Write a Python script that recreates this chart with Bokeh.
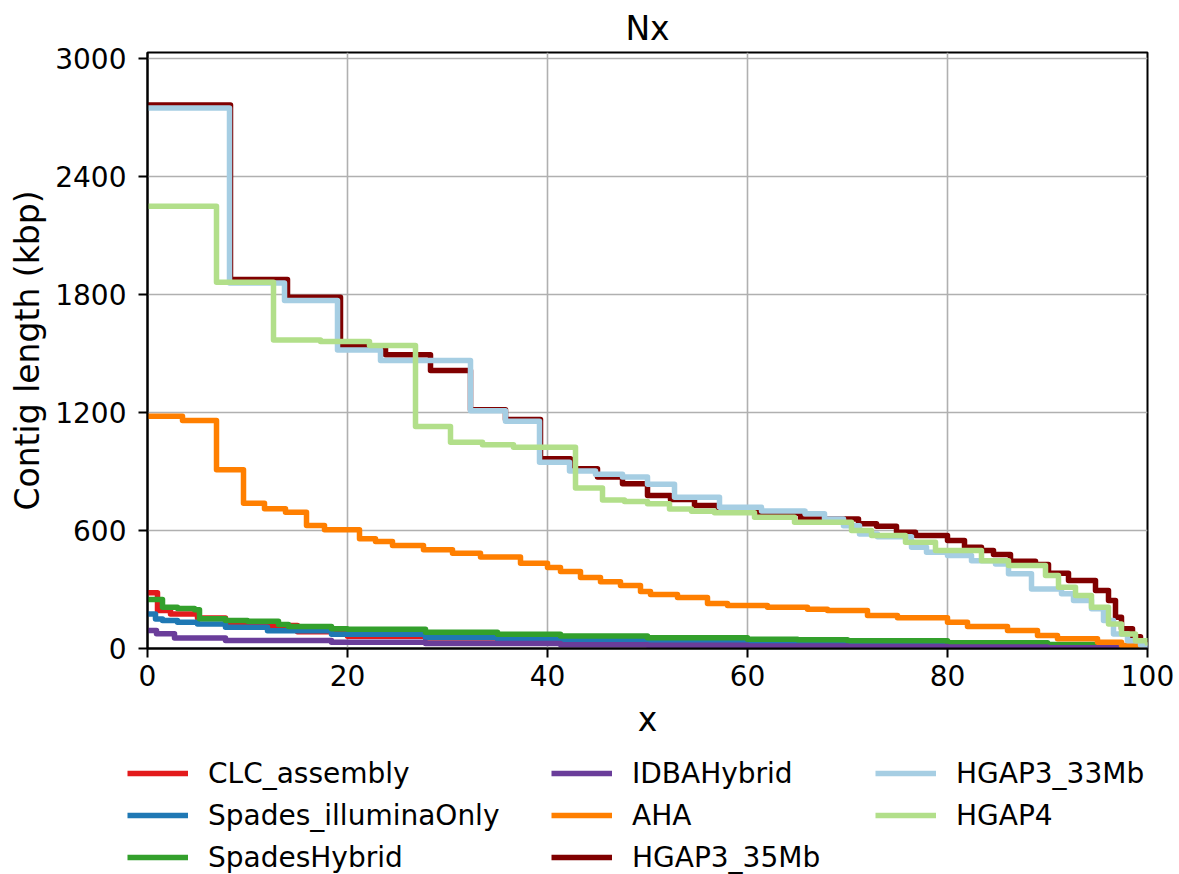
from bokeh.plotting import figure
from bokeh.models import Range1d, FixedTicker, Legend, LegendItem
from bokeh.layouts import column
from bokeh.embed import file_html
from bokeh.resources import INLINE

FONT = "DejaVu Sans"

# ---------------- data ----------------
names = ["CLC_assembly", "Spades_illuminaOnly", "SpadesHybrid", "IDBAHybrid",
         "AHA", "HGAP3_35Mb", "HGAP3_33Mb", "HGAP4"]
colors = ["#e31a1c", "#1f78b4", "#33a02c", "#6a3d9a",
          "#ff7f00", "#800000", "#a6cee3", "#b2df8a"]

clc_x = [0, 1.0, 2.3, 5.0, 7.8, 10, 15, 20, 27.8, 35, 41.3, 50, 60, 70, 80, 90, 95, 100]
clc_y = [283, 193, 176, 155, 130, 117, 85, 62, 54, 46, 40, 34, 28, 22, 15, 8, 4, 1]

spades_il_x = [0, 0.8, 1.5, 3, 5, 7.8, 12, 18.4, 27.8, 35, 41.3, 50, 60, 70, 80, 90, 95, 100]
spades_il_y = [176, 150, 142, 133, 125, 108, 90, 72, 56, 48, 44, 38, 32, 26, 18, 10, 5, 1]

spades_hy_x = [0, 1.5, 3, 4.7, 5.2, 7.8, 10, 13.1, 14.1, 18.4, 20, 27.8, 35, 41.3, 50, 60, 65, 70, 80, 90, 95, 100]
spades_hy_y = [249, 210, 203, 197, 151, 142, 139, 122, 112, 101, 98, 83, 72, 63, 55, 47, 44, 40, 29, 20, 12, 2]

idba_x = [0, 0.9, 2.7, 7.8, 18.4, 27.8, 41.3, 50, 60, 70, 80, 90, 100]
idba_y = [92, 75, 54, 41, 32, 26, 19, 16, 13, 10, 7, 4, 1]

aha_x = [0, 3.5, 6.9, 9.6, 11.7, 13.8, 15.9, 17.7, 21.2, 22.8, 24.5, 27.6, 30.5, 33.3,
         37.3, 40.0, 41.3, 43.3, 45.3, 47.3, 49.3, 50.3, 53, 56, 58, 62, 66, 68, 72, 75,
         80, 82, 86, 89, 91, 95, 97.4, 99.5]
aha_y = [1182, 1160, 909, 739, 711, 693, 626, 604, 558, 544, 524, 503, 485, 465,
         434, 412, 392, 361, 340, 320, 290, 275, 259, 229, 219, 210, 200, 193, 168, 156,
         134, 112, 91, 66, 49, 32, 15, 5]

hgap35_x = [0, 8.3, 14.0, 19.3, 23.8, 28.3, 32.3, 35.8, 39.3, 42.3, 45.0, 47.5, 50.0,
            52.3, 54.7, 57.1, 61.2, 65.3, 71.1, 72.9, 74.9, 76.8, 80.0, 81.7, 83.4,
            84.6, 86.3, 88.8, 90.1, 92.1, 94.8, 96.1, 96.8, 97.4, 98.5, 99.3, 100]
hgap35_y = [2765, 1877, 1787, 1538, 1494, 1414, 1215, 1165, 965, 914, 872, 838, 778,
            758, 727, 705, 688, 659, 634, 622, 592, 575, 549, 515, 498,
            478, 444, 427, 383, 346, 295, 244, 159, 100, 60, 30, 15]

hgap33_x = [0, 8.2, 13.7, 19.0, 23.3, 32.3, 35.8, 39.2, 42.2, 44.8, 47.5, 50.0, 52.7,
            57.2, 61.4, 65.75, 67.7, 69.6, 71.2, 73.0, 76.4, 77.9, 80.0, 82.4, 84.8,
            86.1, 88.4, 91.4, 92.6, 94.4, 95.6, 96.6, 98.0, 99.3, 100]
hgap33_y = [2750, 1860, 1770, 1519, 1465, 1210, 1156, 948, 903, 886, 872, 835, 770,
            719, 699, 685, 659, 625, 583, 568, 515, 490, 473, 447, 430,
            380, 303, 278, 244, 202, 142, 74, 40, 18, 10]

hgap4_x = [0, 6.9, 12.6, 17.3, 22.2, 26.8, 30.3, 33.5, 36.6, 42.8, 45.5, 47.7, 50.0,
           52.2, 54.4, 56.7, 60.7, 64.7, 70.4, 72.4, 75.8, 78.8, 83.4, 86.1, 89.8,
           91.1, 92.8, 94.4, 96.1, 97.4, 98.8, 100]
hgap4_y = [2250, 1863, 1570, 1562, 1541, 1129, 1049, 1037, 1024, 816, 756, 748, 736,
           710, 698, 690, 668, 642, 600, 575, 541, 498, 447, 422, 371,
           312, 269, 210, 125, 74, 40, 15]

series_x = [clc_x, spades_il_x, spades_hy_x, idba_x, aha_x, hgap35_x, hgap33_x, hgap4_x]
series_y = [clc_y, spades_il_y, spades_hy_y, idba_y, aha_y, hgap35_y, hgap33_y, hgap4_y]

x_ticks = [0, 20, 40, 60, 80, 100]
y_ticks = [0, 600, 1200, 1800, 2400, 3000]

LW = 5.5

# ---------------- main figure ----------------
MAIN_H = 748
p = figure(width=1179, height=MAIN_H, output_backend="svg", toolbar_location=None,
           x_range=Range1d(0, 100), y_range=Range1d(0, 3032),
           min_border_left=147, min_border_right=32, min_border_top=52,
           min_border_bottom=MAIN_H - 648)

p.title.text = "Nx"
p.title.align = "center"
p.title.text_font = FONT
p.title.text_font_size = "33px"
p.title.text_font_style = "normal"
p.title.text_color = "black"
p.title.standoff = 9

p.background_fill_color = "white"
p.border_fill_color = "white"
p.outline_line_color = "black"
p.outline_line_width = 2

for ax, ticks in ((p.xaxis, x_ticks), (p.yaxis, y_ticks)):
    ax.ticker = FixedTicker(ticks=ticks)
    ax.axis_line_width = 2
    ax.major_tick_line_width = 2
    ax.major_tick_out = 9
    ax.major_tick_in = 0
    ax.minor_tick_out = 0
    ax.minor_tick_in = 0
    ax.major_label_text_font = FONT
    ax.major_label_text_font_size = "28px"
    ax.major_label_text_color = "black"
    ax.axis_label_text_font = FONT
    ax.axis_label_text_font_size = "33px"
    ax.axis_label_text_font_style = "normal"
    ax.axis_label_text_color = "black"

p.xaxis.axis_label = "x"
p.yaxis.axis_label = "Contig length (kbp)"
p.xaxis.major_label_standoff = 7
p.xaxis.axis_label_standoff = 11
p.yaxis.major_label_standoff = 12
p.yaxis.axis_label_standoff = 5

p.xgrid.ticker = FixedTicker(ticks=x_ticks)
p.ygrid.ticker = FixedTicker(ticks=y_ticks)
for g in (p.xgrid, p.ygrid):
    g.grid_line_color = "#b0b0b0"
    g.grid_line_width = 1.6

for xs, ys, c in zip(series_x, series_y, colors):
    p.step(x=xs, y=ys, mode="after", line_color=c, line_width=LW, line_join="round")

# ---------------- legend strip (separate figure below) ----------------
LEG_H = 874 - MAIN_H
q = figure(width=1179, height=LEG_H, output_backend="svg", toolbar_location=None,
           x_axis_type=None, y_axis_type=None,
           x_range=Range1d(0, 1), y_range=Range1d(0, 1),
           min_border_left=0, min_border_right=0, min_border_top=0, min_border_bottom=0)
q.outline_line_color = None
q.xgrid.visible = False
q.ygrid.visible = False
q.background_fill_color = "white"
q.border_fill_color = "white"

for fig in (p, q):
    if "frame_align" in fig.properties():
        fig.frame_align = False

# off-range stand-ins so that the legend can draw each series' line style
dummies = [q.line(x=[-5, -4], y=[-5, -5], line_color=c, line_width=LW) for c in colors]

columns = [[0, 1, 2], [3, 4, 5], [6, 7]]
col_x = [127, 551, 875]
ITEM_H = 34
SPACING = 8
TOP = 8
for idxs, vx in zip(columns, col_x):
    items = [LegendItem(label=names[i], renderers=[dummies[i]]) for i in idxs]
    n = len(idxs)
    h = n * ITEM_H + (n - 1) * SPACING
    leg = Legend(items=items, location=(vx, LEG_H - TOP - h), orientation="vertical",
                 padding=0, margin=0, spacing=SPACING, glyph_width=61,
                 glyph_height=ITEM_H, label_height=ITEM_H, label_standoff=20,
                 label_text_font=FONT, label_text_font_size="28px",
                 label_text_color="black", border_line_alpha=0,
                 background_fill_alpha=0)
    q.add_layout(leg)

layout = column(p, q, spacing=0)
open("out.html", "w").write(file_html(layout, INLINE))
